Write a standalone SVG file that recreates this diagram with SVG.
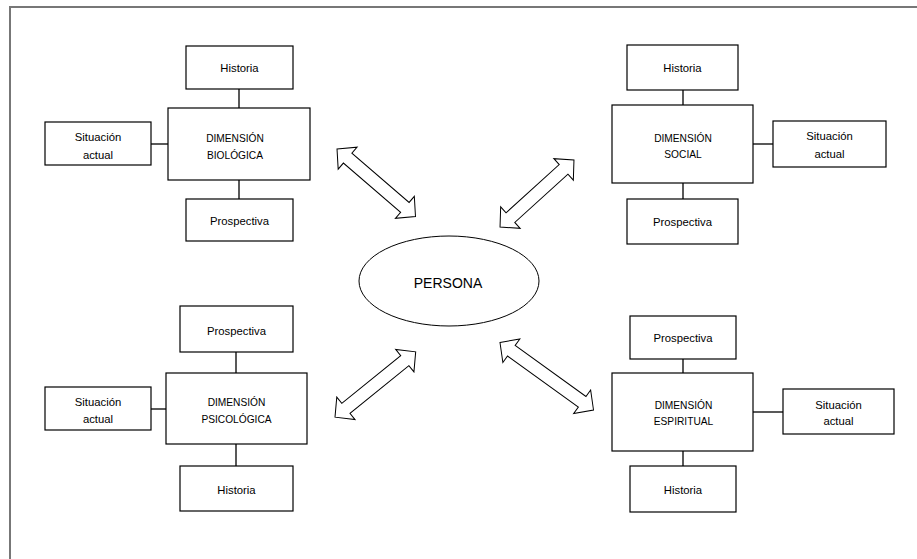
<svg xmlns="http://www.w3.org/2000/svg" width="917" height="559" viewBox="0 0 917 559">
<style>
  .box{fill:#fff;stroke:#000;stroke-width:1.2}
  .ln{stroke:#222;stroke-width:1.5;fill:none}
  .arr{fill:#fff;stroke:#000;stroke-width:1;stroke-linejoin:miter}
  .frame{stroke:#777;stroke-width:2;fill:none}
  .t{font-family:"Liberation Sans",Arial,sans-serif;font-size:11.3px;fill:#000;text-anchor:middle}
  .d{font-family:"Liberation Sans",Arial,sans-serif;font-size:10.2px;fill:#000;text-anchor:middle}
  .p{font-family:"Liberation Sans",Arial,sans-serif;font-size:14px;fill:#000;text-anchor:middle}
</style>
<rect width="917" height="559" fill="#fff"/>
<path class="frame" d="M10,559 V7 H917"/>

<g id="connectors">
  <line class="ln" x1="239" y1="89" x2="239" y2="108"/>
  <line class="ln" x1="239" y1="180" x2="239" y2="199"/>
  <line class="ln" x1="151" y1="144" x2="168" y2="144"/>
  <line class="ln" x1="683" y1="90" x2="683" y2="105"/>
  <line class="ln" x1="683" y1="183" x2="683" y2="199"/>
  <line class="ln" x1="753" y1="144" x2="773" y2="144"/>
  <line class="ln" x1="236" y1="352" x2="236" y2="373"/>
  <line class="ln" x1="236" y1="444" x2="236" y2="466"/>
  <line class="ln" x1="151" y1="409" x2="166" y2="409"/>
  <line class="ln" x1="683" y1="359" x2="683" y2="373"/>
  <line class="ln" x1="683" y1="451" x2="683" y2="466"/>
  <line class="ln" x1="753" y1="412" x2="783" y2="412"/>
  <polygon class="arr" transform="translate(376.25,182.75) rotate(40.7)" points="-51.75,0 -37.75,-14.5 -37.75,-6.5 37.75,-6.5 37.75,-14.5 51.75,0 37.75,14.5 37.75,6.5 -37.75,6.5 -37.75,14.5"/>
  <polygon class="arr" transform="translate(537,193.5) rotate(-42.2)" points="-49.9,0 -35.9,-14.5 -35.9,-6.5 35.9,-6.5 35.9,-14.5 49.9,0 35.9,14.5 35.9,6.5 -35.9,6.5 -35.9,14.5"/>
  <polygon class="arr" transform="translate(375.35,384.5) rotate(-39)" points="-51.9,0 -37.9,-14.5 -37.9,-6.5 37.9,-6.5 37.9,-14.5 51.9,0 37.9,14.5 37.9,6.5 -37.9,6.5 -37.9,14.5"/>
  <polygon class="arr" transform="translate(546.75,376.25) rotate(35.8)" points="-57.65,0 -43.65,-14.5 -43.65,-6.5 43.65,-6.5 43.65,-14.5 57.65,0 43.65,14.5 43.65,6.5 -43.65,6.5 -43.65,14.5"/>
</g>

<g id="persona">
  <ellipse cx="449" cy="281" rx="90" ry="45" fill="#fff" stroke="#000" stroke-width="1"/>
  <text class="p" x="448" y="288">PERSONA</text>
</g>

<!-- Biological -->
<g id="bio-historia">
  <rect class="box" x="186" y="46" width="107" height="43"/>
  <text class="t" x="239.5" y="72">Historia</text>
</g>
<g id="bio-dimension">
  <rect class="box" x="168" y="108" width="142" height="72"/>
  <text class="d" x="235" y="141.5">DIMENSIÓN</text>
  <text class="d" x="235" y="159">BIOLÓGICA</text>
</g>
<g id="bio-situacion">
  <rect class="box" x="45" y="122" width="106" height="43"/>
  <text class="t" x="98" y="141">Situación</text>
  <text class="t" x="98" y="159">actual</text>
</g>
<g id="bio-prospectiva">
  <rect class="box" x="186" y="199" width="107" height="42"/>
  <text class="t" x="239.5" y="224.5">Prospectiva</text>
</g>

<!-- Social -->
<g id="soc-historia">
  <rect class="box" x="627" y="45" width="111" height="45"/>
  <text class="t" x="682.5" y="71.5">Historia</text>
</g>
<g id="soc-dimension">
  <rect class="box" x="612" y="105" width="141" height="78"/>
  <text class="d" x="683" y="141.5">DIMENSIÓN</text>
  <text class="d" x="683" y="157.5">SOCIAL</text>
</g>
<g id="soc-situacion">
  <rect class="box" x="773" y="121" width="113" height="46"/>
  <text class="t" x="829.5" y="140">Situación</text>
  <text class="t" x="829.5" y="157.5">actual</text>
</g>
<g id="soc-prospectiva">
  <rect class="box" x="627" y="199" width="111" height="45"/>
  <text class="t" x="682.5" y="226">Prospectiva</text>
</g>

<!-- Psychological -->
<g id="psi-prospectiva">
  <rect class="box" x="180" y="306" width="113" height="46"/>
  <text class="t" x="236.5" y="334.5">Prospectiva</text>
</g>
<g id="psi-dimension">
  <rect class="box" x="166" y="373" width="141" height="71"/>
  <text class="d" x="236.5" y="406">DIMENSIÓN</text>
  <text class="d" x="236.5" y="422.5">PSICOLÓGICA</text>
</g>
<g id="psi-situacion">
  <rect class="box" x="45" y="387" width="106" height="43"/>
  <text class="t" x="98" y="406">Situación</text>
  <text class="t" x="98" y="422.5">actual</text>
</g>
<g id="psi-historia">
  <rect class="box" x="180" y="466" width="113" height="45"/>
  <text class="t" x="236.5" y="493.5">Historia</text>
</g>

<!-- Spiritual -->
<g id="esp-prospectiva">
  <rect class="box" x="630" y="316" width="106" height="43"/>
  <text class="t" x="683" y="342">Prospectiva</text>
</g>
<g id="esp-dimension">
  <rect class="box" x="612" y="373" width="141" height="78"/>
  <text class="d" x="683.5" y="409">DIMENSIÓN</text>
  <text class="d" x="683.5" y="425">ESPIRITUAL</text>
</g>
<g id="esp-situacion">
  <rect class="box" x="783" y="389" width="111" height="45"/>
  <text class="t" x="838.5" y="409">Situación</text>
  <text class="t" x="838.5" y="425">actual</text>
</g>
<g id="esp-historia">
  <rect class="box" x="630" y="466" width="106" height="46"/>
  <text class="t" x="683" y="493.5">Historia</text>
</g>
</svg>
